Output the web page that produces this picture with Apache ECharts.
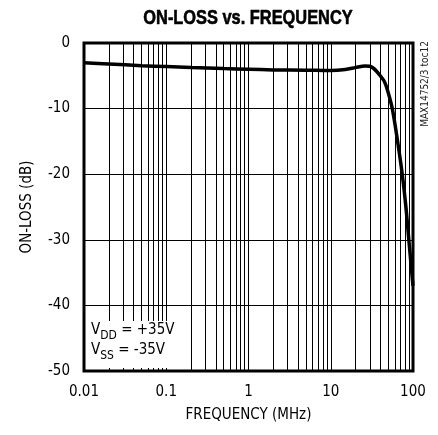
<!DOCTYPE html>
<html>
<head>
<meta charset="utf-8">
<script src="https://cdn.jsdelivr.net/npm/echarts@6/dist/echarts.min.js"></script>
<style>
html,body{margin:0;padding:0;background:#fff;}
#c{width:438px;height:435px;}
</style>
</head>
<body>
<div id="c"></div>
<script>
// Data
const freqMHz = [0.01,0.02,0.05,0.1,0.2,0.5,1,2,5,10,15,20,26,30,33,36,40,45,49,56,65,74,82,89,95,100];
const onLossDb = [-3.0,-3.2,-3.45,-3.6,-3.75,-3.9,-4.0,-4.1,-4.15,-4.2,-4.05,-3.75,-3.5,-3.55,-3.85,-4.3,-5.0,-5.9,-7.2,-10,-15,-20,-25,-30,-34,-37];
const xTickLabels = {0.01:'0.01',0.1:'0.1',1:'1',10:'10',100:'100'};
const minorGridFreqs = [];
[0.01,0.1,1,10].forEach(d=>{for(let k=2;k<=9;k++) minorGridFreqs.push(+(d*k).toPrecision(3));});

const FONT = '"DejaVu Sans Condensed", "Liberation Sans Narrow", "Liberation Sans", sans-serif';
const TFONT = '"Liberation Sans", Arial, sans-serif';
const richLine = {
  n:{fontSize:15, fontFamily:FONT, lineHeight:18, verticalAlign:'top', fill:'#000'},
  s:{fontSize:12, fontFamily:FONT, lineHeight:14, verticalAlign:'top', padding:[7,0,0,0], fill:'#000'}
};
const chart = echarts.init(document.getElementById('c'), null, {renderer:'canvas'});
chart.setOption({
  animation:false,
  backgroundColor:'#fff',
  grid:{left:84, top:43, right:25, bottom:64, show:true, borderColor:'#000', borderWidth:3, backgroundColor:'transparent', z:10},
  xAxis:{type:'log', logBase:10, min:0.01, max:100,
    name:'FREQUENCY (MHz)', nameLocation:'middle', nameGap:37,
    nameTextStyle:{fontFamily:FONT, fontSize:15, color:'#000'},
    axisLine:{show:false}, axisTick:{show:false},
    axisLabel:{margin:14, fontFamily:FONT, fontSize:15, color:'#000', formatter:v=>xTickLabels[+v.toPrecision(3)]||''},
    splitLine:{show:true, lineStyle:{color:'#000', width:1}}},
  yAxis:{type:'value', min:-50, max:0, interval:10,
    name:'ON-LOSS (dB)', nameLocation:'middle', nameGap:49, nameRotate:90,
    nameTextStyle:{fontFamily:FONT, fontSize:15, color:'#000'},
    axisLine:{show:false}, axisTick:{show:false},
    axisLabel:{margin:14, fontFamily:FONT, fontSize:15, color:'#000'},
    splitLine:{show:true, lineStyle:{color:'#000', width:1}}},
  series:[
    {type:'line', data:[], silent:true,
     markLine:{silent:true, symbol:'none', label:{show:false},
       lineStyle:{color:'#000', width:1, type:'solid'},
       data:minorGridFreqs.map(f=>({xAxis:f}))}},
    {type:'line', data:freqMHz.map((f,i)=>[f,onLossDb[i]]), showSymbol:false,
     smooth:0.3, z:5,
     lineStyle:{color:'#000', width:3.5}}
  ],
  graphic:[
    {type:'text', x:248, y:18, scaleX:0.78, z:100,
      style:{text:'ON-LOSS vs. FREQUENCY', font:'bold 21px '+TFONT, fill:'#000', textAlign:'center', textVerticalAlign:'middle', stroke:'#000', lineWidth:0.6}},
    {type:'rect', shape:{x:86, y:321, width:87, height:47}, style:{fill:'#fff'}, z:100},
    {type:'text', left:91, top:323, z:101, style:{text:'{n|V}{s|DD}{n| = +35V}', font:'15px '+FONT, rich:richLine}},
    {type:'text', left:91, top:343, z:101, style:{text:'{n|V}{s|SS}{n| = -35V}', font:'15px '+FONT, rich:richLine}},
    {type:'text', x:425, y:84, rotation:Math.PI/2, z:100,
      style:{text:'MAX14752/3 toc12', font:'10px '+FONT, fill:'#222', textAlign:'center', textVerticalAlign:'middle'}}
  ]
});
</script>
</body>
</html>
